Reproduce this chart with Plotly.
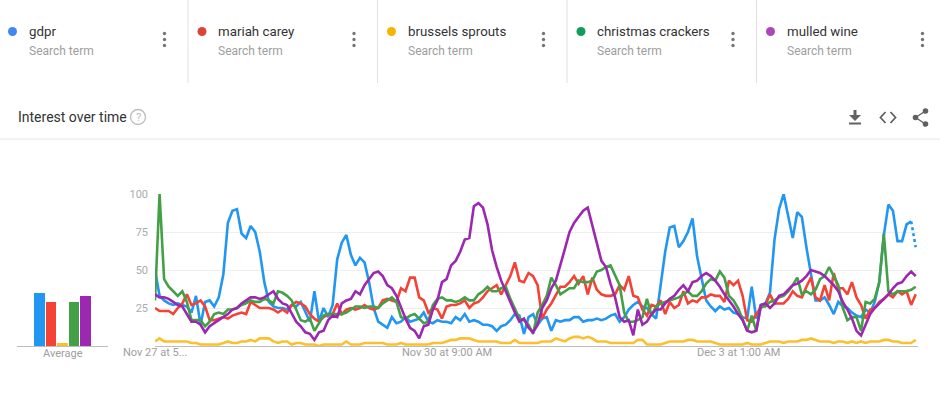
import plotly.graph_objects as go
import pandas as pd

W, H = 940, 397

terms = ["gdpr", "mariah carey", "brussels sprouts", "christmas crackers", "mulled wine"]
line_colors = ["#2196F3", "#F44336", "#FBC02D", "#43A047", "#9C27B0"]
dot_colors = ["#4285F4", "#DB4437", "#F4B400", "#0F9D58", "#AB47BC"]
averages = [35, 29, 2, 29, 33]

start_time = "2018-11-27 17:00"
n_points = 168
tick_idx = [0, 64, 128]
tick_labels = ["Nov 27 at 5...", "Nov 30 at 9:00 AM", "Dec 3 at 1:00 AM"]
y_ticks = [25, 50, 75, 100]

gdpr = [50, 33, 30, 28, 27, 28, 27, 26, 22, 33, 14, 29, 30, 26, 32, 47, 81, 89, 90, 74,
        71, 79, 75, 62, 42, 29, 26, 25, 25, 24, 27, 26, 29, 22, 16, 36, 16, 25, 19, 27,
        57, 68, 73, 60, 53, 58, 55, 42, 25, 16, 14, 12, 19, 15, 16, 19, 16, 17, 18, 22,
        16, 15, 17, 16, 16, 15, 19, 17, 21, 16, 17, 16, 14, 14, 13, 10, 13, 14, 17, 21,
        20, 8, 19, 21, 14, 18, 19, 10, 17, 16, 17, 17, 19, 19, 16, 17, 17, 18, 17, 18,
        20, 21, 16, 19, 24, 27, 29, 26, 25, 21, 18, 40, 62, 78, 79, 65, 69, 75, 84, 59,
        44, 30, 26, 23, 26, 24, 25, 22, 21, 19, 18, 39, 18, 27, 28, 35, 70, 90, 100, 86,
        71, 88, 85, 65, 46, 30, 30, 32, 27, 21, 29, 26, 25, 22, 20, 19, 24, 22, 29, 42,
        73, 93, 89, 69, 69, 80, 82, 65]

mariah_carey = [25, 23, 23, 23, 21, 25, 28, 34, 27, 28, 30, 26, 17, 17, 18, 19, 18, 20, 21, 22,
                21, 29, 27, 25, 25, 25, 24, 22, 24, 22, 27, 29, 28, 26, 21, 18, 16, 19, 21, 21,
                28, 21, 24, 25, 24, 25, 27, 25, 24, 25, 30, 31, 30, 29, 38, 36, 45, 45, 32, 30,
                22, 25, 24, 18, 26, 27, 27, 28, 30, 25, 28, 29, 32, 36, 38, 40, 34, 40, 46, 55,
                43, 42, 48, 46, 40, 18, 24, 28, 34, 39, 39, 42, 46, 41, 46, 34, 45, 37, 34, 33,
                33, 34, 40, 37, 46, 33, 32, 24, 20, 27, 26, 30, 21, 29, 25, 27, 36, 28, 30, 29,
                32, 32, 34, 33, 33, 29, 43, 40, 43, 33, 17, 16, 21, 25, 27, 34, 28, 28, 28, 31,
                36, 33, 32, 39, 45, 32, 30, 40, 30, 48, 38, 38, 34, 42, 32, 27, 18, 24, 25, 29,
                31, 34, 32, 36, 34, 36, 27, 34]

brussels_sprouts = [3, 5, 3, 3, 3, 3, 3, 3, 2, 2, 1, 1, 1, 1, 1, 2, 3, 2, 2, 3,
                    3, 4, 3, 5, 5, 5, 3, 2, 3, 3, 1, 2, 2, 1, 1, 1, 0, 1, 1, 1,
                    1, 1, 3, 1, 1, 1, 2, 2, 2, 2, 2, 1, 1, 1, 2, 1, 1, 1, 1, 1,
                    1, 2, 2, 2, 3, 4, 4, 5, 5, 5, 4, 3, 3, 3, 3, 3, 2, 2, 2, 4,
                    2, 2, 2, 2, 2, 3, 3, 3, 5, 4, 3, 5, 6, 6, 5, 6, 5, 3, 3, 3,
                    2, 2, 2, 2, 2, 2, 4, 4, 1, 1, 1, 1, 2, 3, 3, 3, 3, 4, 4, 3,
                    3, 3, 3, 2, 1, 1, 1, 1, 1, 1, 2, 1, 1, 1, 2, 3, 3, 3, 2, 3,
                    3, 3, 4, 4, 5, 4, 3, 3, 3, 2, 3, 3, 2, 3, 2, 3, 2, 3, 3, 3,
                    4, 4, 3, 3, 2, 2, 2, 4]

christmas_crackers = [30, 100, 44, 39, 36, 33, 36, 29, 17, 17, 17, 13, 16, 21, 22, 21, 24, 24, 25, 27,
                      28, 30, 29, 29, 31, 30, 28, 36, 35, 33, 30, 24, 17, 16, 18, 10, 15, 20, 21, 21,
                      21, 21, 22, 24, 26, 26, 25, 26, 26, 25, 28, 30, 32, 29, 19, 18, 20, 21, 18, 15,
                      16, 27, 31, 32, 30, 30, 29, 30, 32, 30, 30, 34, 36, 39, 36, 36, 38, 39, 31, 24,
                      18, 17, 14, 8, 22, 27, 33, 45, 40, 34, 36, 38, 38, 43, 42, 42, 43, 49, 50, 52,
                      53, 46, 40, 22, 16, 16, 17, 19, 31, 20, 26, 28, 29, 30, 31, 32, 34, 36, 33, 33,
                      36, 41, 44, 43, 49, 45, 33, 30, 25, 17, 10, 20, 10, 26, 26, 29, 30, 32, 33, 36,
                      40, 45, 34, 36, 34, 37, 44, 46, 52, 46, 40, 25, 17, 19, 19, 10, 29, 28, 31, 42,
                      74, 36, 34, 36, 36, 36, 37, 39]

mulled_wine = [34, 32, 32, 31, 29, 27, 26, 21, 16, 16, 14, 9, 13, 15, 17, 19, 21, 24, 25, 28,
               30, 32, 32, 31, 32, 34, 36, 31, 28, 27, 21, 16, 13, 9, 8, 4, 9, 10, 17, 20,
               19, 28, 30, 31, 36, 34, 40, 44, 48, 49, 46, 40, 38, 33, 25, 18, 12, 10, 5, 13,
               14, 24, 30, 42, 44, 53, 56, 62, 70, 71, 92, 94, 91, 80, 63, 52, 43, 36, 28, 22,
               16, 18, 12, 9, 14, 25, 30, 38, 43, 53, 64, 75, 81, 85, 89, 91, 79, 69, 56, 52,
               41, 32, 19, 16, 17, 7, 24, 14, 16, 21, 24, 24, 28, 31, 33, 37, 40, 36, 42, 43,
               46, 48, 46, 43, 39, 34, 30, 26, 21, 17, 10, 9, 10, 27, 28, 25, 28, 33, 34, 37,
               40, 41, 43, 46, 50, 49, 48, 46, 43, 40, 36, 29, 24, 18, 10, 7, 14, 21, 25, 28,
               31, 34, 38, 41, 42, 46, 49, 46]

series = [gdpr, mariah_carey, brussels_sprouts, christmas_crackers, mulled_wine]

times = pd.date_range(start_time, periods=n_points, freq="h")


def X(px):
    return px / W


def Y(py):
    return 1 - py / H


fig = go.Figure()

# Average bars
fig.add_trace(go.Bar(
    x=terms, y=averages, marker=dict(color=line_colors, line=dict(width=0)),
    width=0.92, xaxis="x2", yaxis="y2", showlegend=False, hoverinfo="skip"))

# Lines
for name, vals, col in zip(terms, series, line_colors):
    if name == "gdpr":
        fig.add_trace(go.Scatter(x=times[:-1], y=vals[:-1], mode="lines", name=name,
                                 line=dict(color=col, width=2.6), showlegend=False))
        fig.add_trace(go.Scatter(x=times[-2:], y=vals[-2:], mode="lines", name=name,
                                 line=dict(color=col, width=2.6, dash="dot"), showlegend=False))
    else:
        fig.add_trace(go.Scatter(x=times, y=vals, mode="lines", name=name,
                                 line=dict(color=col, width=2.6), showlegend=False))

shapes = []
annotations = []

# Header cards
card_x = [0, 189.5, 379, 568.5, 758]
for i, (t, dc) in enumerate(zip(terms, dot_colors)):
    x0 = card_x[i]
    cx = x0 + 12.5
    shapes.append(dict(type="circle", xref="paper", yref="paper",
                       x0=X(cx - 4.5), x1=X(cx + 4.5), y0=Y(31.5 + 4.5), y1=Y(31.5 - 4.5),
                       fillcolor=dc, line=dict(width=0)))
    annotations.append(dict(text=t, x=X(x0 + 26.5), y=Y(31.5), xref="paper", yref="paper",
                            xanchor="left", yanchor="middle", showarrow=False,
                            font=dict(family="Roboto", size=13.3, color="#333333")))
    annotations.append(dict(text="Search term", x=X(x0 + 26.5), y=Y(51), xref="paper", yref="paper",
                            xanchor="left", yanchor="middle", showarrow=False,
                            font=dict(family="Roboto", size=12, color="#9e9e9e")))
    mx = x0 + 164.5
    for my in (33.5, 39.5, 45.5):
        shapes.append(dict(type="circle", xref="paper", yref="paper",
                           x0=X(mx - 1.7), x1=X(mx + 1.7), y0=Y(my + 1.7), y1=Y(my - 1.7),
                           fillcolor="#757575", line=dict(width=0)))
    if i > 0:
        shapes.append(dict(type="line", xref="paper", yref="paper",
                           x0=X(x0 - 1.5), x1=X(x0 - 1.5), y0=Y(0), y1=Y(83),
                           line=dict(color="#e0e0e0", width=1)))

# Section divider
shapes.append(dict(type="line", xref="paper", yref="paper", x0=0, x1=1, y0=Y(139), y1=Y(139),
                   line=dict(color="#e6e6e6", width=1)))

annotations.append(dict(text="Interest over time", x=X(16), y=Y(117), xref="paper", yref="paper",
                        xanchor="left", yanchor="middle", showarrow=False,
                        font=dict(family="Roboto", size=14, color="#333333")))
# help icon
shapes.append(dict(type="circle", xref="paper", yref="paper",
                   x0=X(130.5), x1=X(145.5), y0=Y(124.5), y1=Y(109.5),
                   line=dict(color="#bdbdbd", width=1.3)))
annotations.append(dict(text="?", x=X(138), y=Y(117), xref="paper", yref="paper",
                        xanchor="center", yanchor="middle", showarrow=False,
                        font=dict(family="Roboto", size=11, color="#bdbdbd")))

icon_col = "#616161"
# download icon
shapes.append(dict(type="rect", xref="paper", yref="paper", x0=X(853.5), x1=X(856.5),
                   y0=Y(116), y1=Y(110), fillcolor=icon_col, line=dict(width=0)))
shapes.append(dict(type="path", xref="paper", yref="paper",
                   path=f"M {X(849)} {Y(115)} L {X(861)} {Y(115)} L {X(855)} {Y(121)} Z",
                   fillcolor=icon_col, line=dict(width=0)))
shapes.append(dict(type="rect", xref="paper", yref="paper", x0=X(849), x1=X(861),
                   y0=Y(124.5), y1=Y(122.5), fillcolor=icon_col, line=dict(width=0)))
# embed icon
shapes.append(dict(type="path", xref="paper", yref="paper",
                   path=f"M {X(885.5)} {Y(112)} L {X(880.5)} {Y(117.5)} L {X(885.5)} {Y(123)}",
                   line=dict(color=icon_col, width=1.8)))
shapes.append(dict(type="path", xref="paper", yref="paper",
                   path=f"M {X(890.5)} {Y(112)} L {X(895.5)} {Y(117.5)} L {X(890.5)} {Y(123)}",
                   line=dict(color=icon_col, width=1.8)))
# share icon
shapes.append(dict(type="path", xref="paper", yref="paper",
                   path=f"M {X(925.5)} {Y(111)} L {X(915.5)} {Y(117.5)} L {X(925.5)} {Y(124)}",
                   line=dict(color=icon_col, width=1.3)))
for (sx, sy) in ((925.5, 111), (915.5, 117.5), (925.5, 124)):
    shapes.append(dict(type="circle", xref="paper", yref="paper",
                       x0=X(sx - 2.8), x1=X(sx + 2.8), y0=Y(sy + 2.8), y1=Y(sy - 2.8),
                       fillcolor=icon_col, line=dict(width=0)))

annotations.append(dict(text="Average", x=X(62.5), y=Y(353.5), xref="paper", yref="paper",
                        xanchor="center", yanchor="middle", showarrow=False,
                        font=dict(family="Roboto", size=11, color="#9e9e9e")))

# x-axis tick labels (placed under the line chart at the axis tick positions)
for i, lab in zip(tick_idx, tick_labels):
    annotations.append(dict(text=lab, x=times[i], y=Y(352.5), xref="x", yref="paper",
                            xanchor="center", yanchor="middle", showarrow=False,
                            font=dict(family="Roboto", size=11, color="#9e9e9e")))

y_dom = [Y(346), Y(194)]
x_end = times[0] + pd.Timedelta(hours=167.5)

fig.update_layout(
    width=W, height=H, margin=dict(l=0, r=0, t=0, b=0, pad=0, autoexpand=False),
    paper_bgcolor="white", plot_bgcolor="white",
    font=dict(family="Roboto", color="#9e9e9e"),
    showlegend=False,
    shapes=shapes, annotations=annotations,
    xaxis=dict(domain=[X(155), X(918)], range=[times[0], x_end],
               tickvals=[times[i] for i in tick_idx], ticktext=tick_labels,
               showticklabels=False,
               showgrid=False, zeroline=False, showline=True, linecolor="#bdbdbd", linewidth=1,
               ticks="", anchor="y", automargin=False),
    yaxis=dict(domain=y_dom, range=[0, 100], tickvals=y_ticks, showgrid=True,
               gridcolor="#eeeeee", gridwidth=1, zeroline=False, showline=False, ticks="",
               tickfont=dict(size=11, color="#aaaaaa"), anchor="x", ticklabelstandoff=6,
               automargin=False),
    xaxis2=dict(domain=[X(17), X(108)], range=[-1.96, 5.96], showticklabels=False,
                showgrid=False, zeroline=False, showline=True, linecolor="#bdbdbd",
                linewidth=1, ticks="", anchor="y2", automargin=False),
    yaxis2=dict(domain=y_dom, range=[0, 100], visible=False, anchor="x2", automargin=False),
    bargap=0,
)

fig.write_html("out.html", config={"displayModeBar": False},
               post_script="document.body.style.margin='0';document.body.style.overflow='hidden';")
